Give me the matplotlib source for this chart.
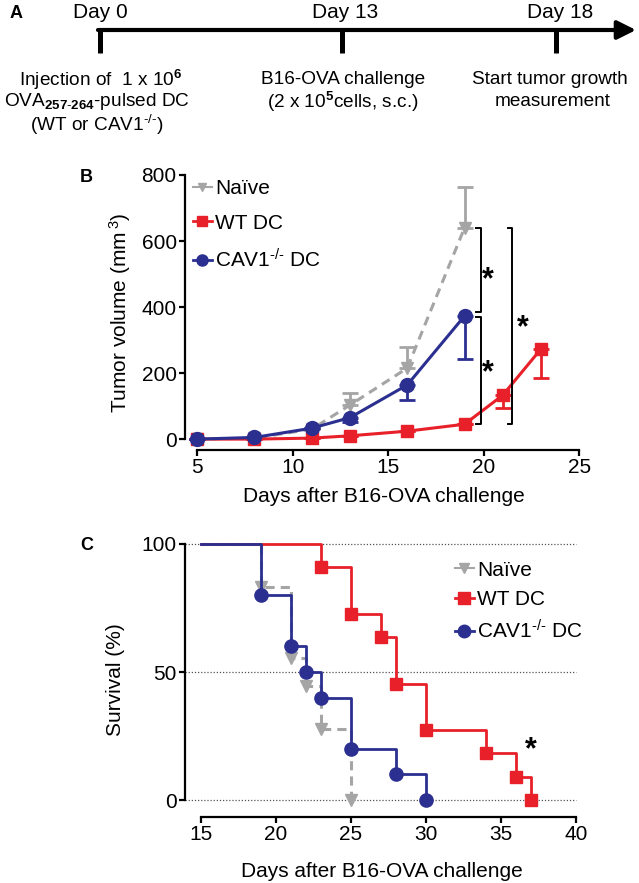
import numpy as np
import matplotlib
matplotlib.use('Agg')
import matplotlib.pyplot as plt
from matplotlib.lines import Line2D

plt.rcParams['font.family'] = ['Liberation Sans', 'DejaVu Sans']
plt.rcParams['mathtext.fontset'] = 'custom'
plt.rcParams['mathtext.rm'] = 'Liberation Sans'
plt.rcParams['mathtext.it'] = 'Liberation Sans:italic'
plt.rcParams['mathtext.bf'] = 'Liberation Sans:bold'

# ---- data -------------------------------------------------------------
# panel B: tumor volume (mm3)
naive_days = [5, 8, 11, 13, 16, 19]
naive_vol = [0, 3, 30, 103, 215, 640]
naive_err = [0, 0, 0, 36, 64, 124]          # upper only

cav_days = [5, 8, 11, 13, 16, 19]
cav_vol = [0, 5, 33, 65, 164, 373]
cav_err = [0, 0, 0, 12, 46, 131]            # lower only

wt_days = [5, 8, 11, 13, 16, 19, 21, 23]
wt_vol = [0, 0, 3, 10, 24, 45, 133, 273]
wt_err = [0, 0, 0, 0, 0, 0, 39, 88]         # lower only

# panel C: survival (%)
naive_t = [15, 19, 21, 22, 23, 25]
naive_s = [100, 83.3, 55.6, 44.4, 27.8, 0]
wt_t = [15, 23, 25, 27, 28, 30, 34, 36, 37]
wt_s = [100, 90.9, 72.7, 63.6, 45.5, 27.3, 18.2, 9.1, 0]
cav_t = [15, 19, 21, 22, 23, 25, 28, 30]
cav_s = [100, 80, 60, 50, 40, 20, 10, 0]

labels = ['Naïve', 'WT DC', r'CAV1$^{\text{-/-}}$ DC']

# ---- styles -----------------------------------------------------------
RED = '#e8202a'
BLUE = '#2b2f90'
GRAY = '#a5a5a5'
FS = 15
FSA = 13.7
W, H = 639, 883

fig = plt.figure(figsize=(W / 100, H / 100), dpi=100)

# ---- panel A (schematic timeline, pixel coords) ------------------------
axa = fig.add_axes([0, 1 - 140 / H, 1, 140 / H])
axa.set_xlim(0, W)
axa.set_ylim(140, 0)
axa.axis('off')
axa.annotate('', xy=(636, 30), xytext=(98, 30),
             arrowprops=dict(arrowstyle='-|>', lw=3, color='k',
                             mutation_scale=28, shrinkA=0, shrinkB=0))
for xp in [100, 342, 556]:
    axa.plot([xp, xp], [28, 53], color='k', lw=3.6, solid_capstyle='butt')
axa.text(100, 13, 'Day 0', fontsize=FS, ha='center', va='center')
axa.text(345, 13, 'Day 13', fontsize=FS, ha='center', va='center')
axa.text(560, 13, 'Day 18', fontsize=FS, ha='center', va='center')
axa.text(101, 80, r'Injection of  1 x 10$^{\mathbf{6}}$', fontsize=FSA,
         ha='center', va='center')
axa.text(97, 102, r'OVA$_{\mathbf{257{\text{-}}264}}$-pulsed DC', fontsize=FSA,
         ha='center', va='center')
axa.text(97, 125, r'(WT or CAV1$^{\text{-/-}}$)', fontsize=FSA,
         ha='center', va='center')
axa.text(343, 80, 'B16-OVA challenge', fontsize=FSA, ha='center', va='center')
axa.text(343, 102, r'(2 x 10$^{\mathbf{5}}$cells, s.c.)', fontsize=FSA,
         ha='center', va='center')
axa.text(550, 80, 'Start tumor growth', fontsize=FSA, ha='center', va='center')
axa.text(553, 102, 'measurement', fontsize=FSA, ha='center', va='center')
axa.text(10, 13, 'A', fontsize=13, fontweight='bold', ha='left', va='center')


def style_axes(ax, xb, yb):
    for s in ['top', 'right']:
        ax.spines[s].set_visible(False)
    for s in ['left', 'bottom']:
        ax.spines[s].set_linewidth(1.6)
    ax.spines['bottom'].set_bounds(*xb)
    ax.spines['left'].set_bounds(*yb)
    ax.tick_params(direction='out', length=4, width=1.6, labelsize=FS, pad=2)


def bracket(ax, x, y0, y1, tick=0.25):
    ax.plot([x - tick, x, x, x - tick], [y0, y0, y1, y1], color='k', lw=1.4)


# ---- panel B ----------------------------------------------------------
axb = fig.add_axes([185 / W, 1 - 450 / H, (583 - 185) / W, (450 - 175) / H])
zn = np.zeros(len(naive_days))
axb.errorbar(naive_days, naive_vol, yerr=[zn, naive_err], fmt='none',
             ecolor=GRAY, elinewidth=2, capsize=6, capthick=2)
axb.errorbar(wt_days, wt_vol, yerr=[wt_err, np.zeros(len(wt_days))], fmt='none',
             ecolor=RED, elinewidth=2, capsize=6, capthick=2)
axb.errorbar(cav_days, cav_vol, yerr=[cav_err, np.zeros(len(cav_days))], fmt='none',
             ecolor=BLUE, elinewidth=2, capsize=6, capthick=2)
axb.plot(naive_days, naive_vol, ls=(0, (3, 2)), color=GRAY, lw=2.2,
         marker='v', ms=8)
axb.plot(wt_days, wt_vol, '-', color=RED, lw=2.2, marker='s', ms=9)
axb.plot(cav_days, cav_vol, '-', color=BLUE, lw=2.2, marker='o', ms=10)

# significance brackets
bracket(axb, 19.85, 640, 385)
bracket(axb, 19.85, 370, 45)
bracket(axb, 21.5, 640, 45)
axb.text(20.2, 480, '*', fontsize=22, fontweight='bold', ha='center', va='center')
axb.text(20.2, 200, '*', fontsize=22, fontweight='bold', ha='center', va='center')
axb.text(22.05, 335, '*', fontsize=22, fontweight='bold', ha='center', va='center')

axb.set_xlim(4.37, 25.2)
axb.set_ylim(-33, 800)
axb.set_xticks([5, 10, 15, 20, 25])
axb.set_yticks([0, 200, 400, 600, 800])
style_axes(axb, (5, 25), (0, 800))
axb.set_xlabel('Days after B16-OVA challenge', fontsize=FS, labelpad=7)
axb.set_ylabel(r'Tumor volume (mm$\,^{3}$)', fontsize=FS, labelpad=6)
hb = [Line2D([], [], color=GRAY, marker='v', ms=6, ls='-', lw=1.5),
      Line2D([], [], color=RED, marker='s', ms=7, ls='-', lw=2),
      Line2D([], [], color=BLUE, marker='o', ms=8, ls='-', lw=2)]
axb.legend(hb, labels, loc='upper left', bbox_to_anchor=(0.02, 0.985),
           frameon=False, fontsize=FS, handlelength=0.9, handletextpad=0.15,
           labelspacing=0.75, borderaxespad=0, borderpad=0)
fig.text(80 / W, 1 - 177 / H, 'B', fontsize=13, fontweight='bold',
         ha='left', va='center')

# ---- panel C ----------------------------------------------------------
axc = fig.add_axes([185 / W, 1 - 817 / H, (579 - 185) / W, (817 - 541.4) / H])
for yv in [0, 50, 100]:
    axc.plot([13.93, 40], [yv, yv], ls=(0, (1, 1.5)), color='#555555', lw=0.9)
axc.step(naive_t, naive_s, where='post', ls=(0, (3, 2)), color=GRAY, lw=2.2)
axc.plot(naive_t[1:], naive_s[1:], 'v', color=GRAY, ms=8)
axc.step(wt_t, wt_s, where='post', color=RED, lw=2.0)
axc.plot(wt_t[1:], wt_s[1:], 's', color=RED, ms=8.5)
axc.step(cav_t, cav_s, where='post', color=BLUE, lw=2.0)
axc.plot(cav_t[1:], cav_s[1:], 'o', color=BLUE, ms=9.5)
axc.text(37, 19.3, '*', fontsize=22, fontweight='bold', ha='center', va='center')

axc.set_xlim(13.93, 40.2)
axc.set_ylim(-6.6, 101)
axc.set_xticks([15, 20, 25, 30, 35, 40])
axc.set_yticks([0, 50, 100])
style_axes(axc, (15, 40), (0, 100))
axc.set_xlabel('Days after B16-OVA challenge', fontsize=FS, labelpad=13)
axc.set_ylabel('Survival (%)', fontsize=FS, labelpad=12)
hc = [Line2D([], [], color=GRAY, marker='v', ms=7, ls='-', lw=1.5),
      Line2D([], [], color=RED, marker='s', ms=8, ls='-', lw=2),
      Line2D([], [], color=BLUE, marker='o', ms=9, ls='-', lw=2)]
axc.legend(hc, labels, loc='upper left', bbox_to_anchor=(0.685, 0.93),
           frameon=False, fontsize=FS, handlelength=0.9, handletextpad=0.15,
           labelspacing=0.5, borderaxespad=0, borderpad=0)
fig.text(80 / W, 1 - 545 / H, 'C', fontsize=13, fontweight='bold',
         ha='left', va='center')

fig.savefig('out.png', dpi=100)
